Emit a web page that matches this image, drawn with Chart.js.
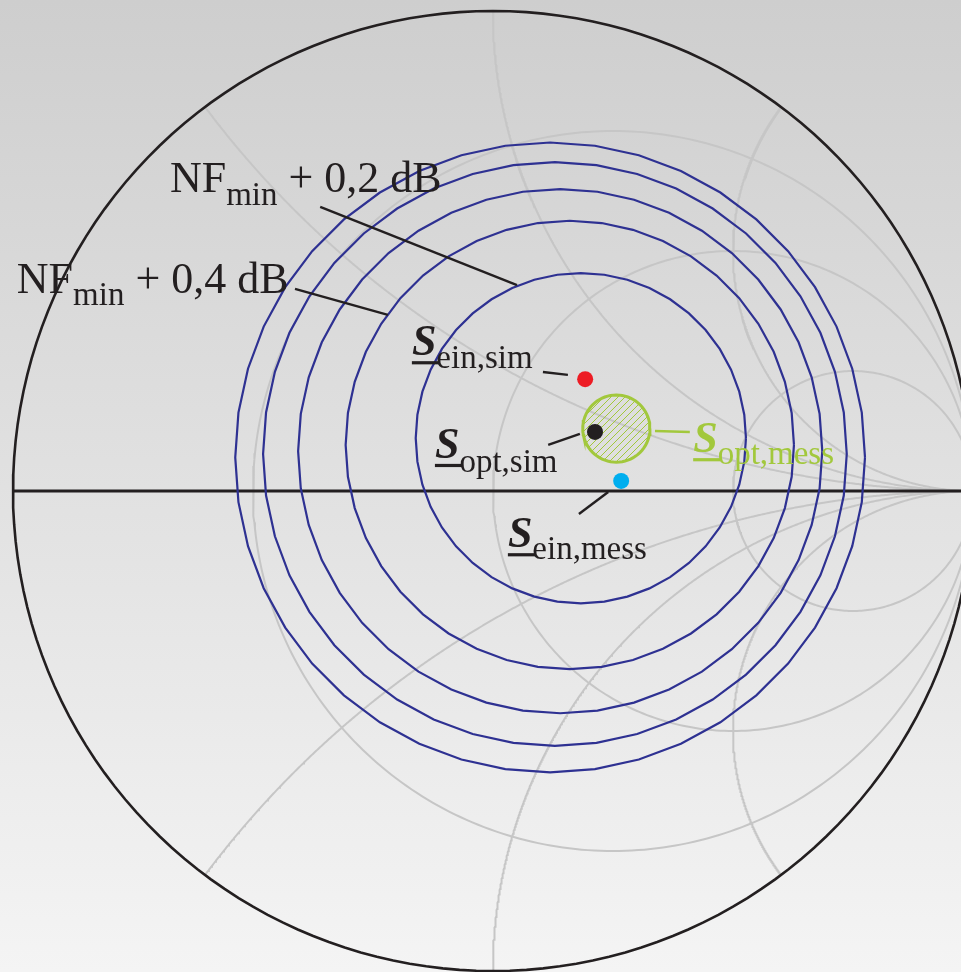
<!DOCTYPE html>
<html><head><meta charset="utf-8">
<script src="https://cdn.jsdelivr.net/npm/chart.js@4/dist/chart.umd.min.js"></script>
<style>html,body{margin:0;padding:0;background:#e0e0e0;overflow:hidden}canvas{display:block}</style>
</head><body>
<canvas id="c" width="961" height="972"></canvas>
<script>
// ---- Smith chart grid (normalised impedance values) ----
const resistanceCircles = [1/3, 1, 3];
const reactanceArcs = [0.5, 1, 2, -0.5, -1, -2];

// ---- Noise circles in the reflection-coefficient plane ----
const noiseSteps = ['+0,2 dB', '+0,4 dB', '+0,6 dB', '+0,8 dB', '+1,0 dB'];
const noiseCenterRe = [0.183, 0.160, 0.140, 0.129, 0.119];
const noiseCenterIm = [0.110, 0.096, 0.083, 0.077, 0.070];
const noiseRadius   = [0.344, 0.467, 0.546, 0.608, 0.656];

// ---- Points (reflection coefficients) ----
const pointNames = ['S_ein,sim', 'S_opt,sim', 'S_ein,mess'];
const pointRe = [0.192, 0.2125, 0.267];
const pointIm = [0.233, 0.123, 0.021];

// ---- Measured optimum with uncertainty region ----
const sOptMessRe = 0.257;
const sOptMessIm = 0.130;
const sOptMessRadius = 0.070;

// ---- Annotation anchors (Γ-plane): leader lines and label positions ----
const leaders = [
  {from:[-0.360, 0.592], to:[0.050, 0.429], color:'#231f20'},
  {from:[-0.4125, 0.421], to:[-0.219, 0.367], color:'#231f20'},
  {from:[0.104, 0.248], to:[0.156, 0.242], color:'#231f20'},
  {from:[0.115, 0.096], to:[0.181, 0.119], color:'#231f20'},
  {from:[0.179, -0.048], to:[0.240, -0.002], color:'#231f20'},
  {from:[0.3375, 0.125], to:[0.410, 0.123], color:'#a2c83c'}
];

const COL_BLACK = '#231f20';
const COL_GRID = '#c6c6c6';
const COL_BLUE = '#2e3192';
const COL_GREEN = '#a2c83c';
const pointColors = ['#ed1c24', '#231f20', '#00aeef'];

// ---- helpers ----
function circlePts(cx, cy, r, n){
  const pts = [];
  for(let i=0;i<=n;i++){ const a = 2*Math.PI*i/n; pts.push({x:cx + r*Math.cos(a), y:cy + r*Math.sin(a)}); }
  return pts;
}
function reactancePts(x){
  const pts = [];
  const N = 600;
  for(let i=0;i<N;i++){
    const t = i/N; const r = t/(1-t);
    const den = (r+1)*(r+1) + x*x;
    pts.push({x:(r*r - 1 + x*x)/den, y:2*x/den});
  }
  pts.push({x:1, y:0});
  return pts;
}

const datasets = [];
resistanceCircles.forEach(r => {
  datasets.push({data:circlePts(r/(1+r), 0, 1/(1+r), 360), showLine:true, borderColor:COL_GRID, borderWidth:2, pointRadius:0, fill:false, order:50});
});
reactanceArcs.forEach(x => {
  datasets.push({data:reactancePts(x), showLine:true, borderColor:COL_GRID, borderWidth:2, pointRadius:0, fill:false, order:50});
});
datasets.push({data:circlePts(0,0,1,180), showLine:true, borderColor:COL_BLACK, borderWidth:2.6, pointRadius:0, fill:false, order:40});
datasets.push({data:[{x:-1,y:0},{x:1,y:0}], showLine:true, borderColor:COL_BLACK, borderWidth:2.8, pointRadius:0, fill:false, order:40});
noiseRadius.forEach((rad, i) => {
  datasets.push({label:'NFmin ' + noiseSteps[i], data:circlePts(noiseCenterRe[i], noiseCenterIm[i], rad, 44), showLine:true, borderColor:COL_BLUE, borderWidth:2.2, pointRadius:0, fill:false, order:30});
});
const pc = document.createElement('canvas'); pc.width = 7; pc.height = 7;
const pctx = pc.getContext('2d');
pctx.strokeStyle = COL_GREEN; pctx.lineWidth = 1;
pctx.beginPath(); pctx.moveTo(0,7); pctx.lineTo(7,0); pctx.moveTo(-1,1); pctx.lineTo(1,-1); pctx.moveTo(6,8); pctx.lineTo(8,6); pctx.stroke();
const hatch = pctx.createPattern(pc, 'repeat');
datasets.push({data:circlePts(sOptMessRe, sOptMessIm, sOptMessRadius, 72), showLine:true, borderColor:COL_GREEN, borderWidth:3, pointRadius:0, fill:'shape', backgroundColor:hatch, order:20});
leaders.forEach(l => {
  datasets.push({data:[{x:l.from[0],y:l.from[1]},{x:l.to[0],y:l.to[1]}], showLine:true, borderColor:l.color, borderWidth:2.4, pointRadius:0, fill:false, order:15});
});
pointNames.forEach((n, i) => {
  datasets.push({label:n, data:[{x:pointRe[i], y:pointIm[i]}], showLine:false, pointRadius:8, pointBackgroundColor:pointColors[i], pointBorderWidth:0, borderWidth:0, order:10});
});

const FM = '44px "Liberation Serif", "Times New Roman", serif';
const FS = '33px "Liberation Serif", "Times New Roman", serif';
const FB = 'italic bold 44px "Liberation Serif", "Times New Roman", serif';
const labels = [
  {at:[-0.673, 0.623], color:COL_BLACK, runs:[{t:'NF', f:FM},{t:'min', f:FS, dy:13},{t:' + 0,2 dB', f:FM}]},
  {at:[-0.992, 0.4125], color:COL_BLACK, runs:[{t:'NF', f:FM},{t:'min', f:FS, dy:12},{t:' + 0,4 dB', f:FM}]},
  {at:[-0.169, 0.283], color:COL_BLACK, runs:[{t:'S', f:FB, u:true},{t:'ein,sim', f:FS, dy:13}]},
  {at:[-0.121, 0.069], color:COL_BLACK, runs:[{t:'S', f:FB, u:true},{t:'opt,sim', f:FS, dy:14}]},
  {at:[0.031, -0.117], color:COL_BLACK, runs:[{t:'S', f:FB, u:true},{t:'ein,mess', f:FS, dy:12}]},
  {at:[0.417, 0.081], color:COL_GREEN, runs:[{t:'S', f:FB, u:true},{t:'opt,mess', f:FS, dy:12}]}
];

const bgPlugin = {
  id:'bg',
  beforeDraw(chart){
    const {ctx, width, height} = chart;
    const g = ctx.createLinearGradient(0,0,0,height);
    g.addColorStop(0,'#cecece'); g.addColorStop(1,'#f4f4f4');
    ctx.save(); ctx.fillStyle = g; ctx.fillRect(0,0,width,height); ctx.restore();
  }
};
const labelPlugin = {
  id:'labels',
  afterDatasetsDraw(chart){
    const {ctx} = chart; const xs = chart.scales.x, ys = chart.scales.y;
    ctx.save(); ctx.textBaseline = 'alphabetic';
    labels.forEach(L => {
      let cx = xs.getPixelForValue(L.at[0]); const by = ys.getPixelForValue(L.at[1]);
      ctx.fillStyle = L.color;
      L.runs.forEach(r => {
        ctx.font = r.f;
        ctx.fillText(r.t, cx, by + (r.dy||0));
        const w = ctx.measureText(r.t).width;
        if(r.u){ ctx.fillRect(cx, by + 6, w + 3, 3.2); }
        cx += w;
      });
    });
    ctx.restore();
  }
};

new Chart(document.getElementById('c'), {
  type:'scatter',
  data:{datasets},
  options:{
    responsive:false, animation:false, devicePixelRatio:1, events:[],
    layout:{padding:0, autoPadding:false},
    plugins:{legend:{display:false}, tooltip:{enabled:false}},
    elements:{line:{tension:0}},
    scales:{
      x:{type:'linear', min:-493/480, max:468/480, display:false},
      y:{type:'linear', min:-481/480, max:491/480, display:false}
    }
  },
  plugins:[bgPlugin, labelPlugin]
});
</script>
</body></html>
